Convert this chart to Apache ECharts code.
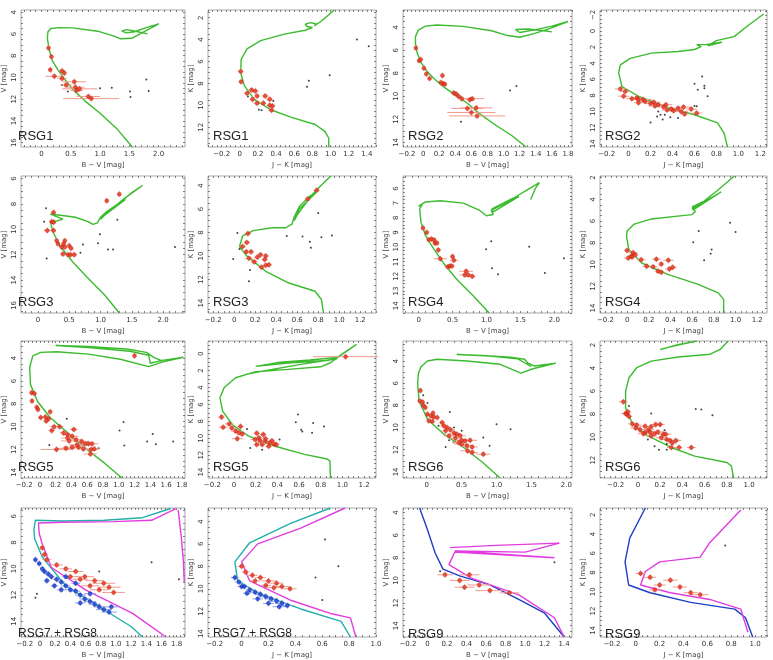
<!DOCTYPE html>
<html>
<head>
<meta charset="utf-8">
<title>RSG colour-magnitude diagrams</title>
<script src="https://cdn.jsdelivr.net/npm/echarts/dist/echarts.min.js"></script>
<style>
html, body { margin: 0; padding: 0; background: #fff; }
#chart { width: 773px; height: 660px; }
</style>
</head>
<body>
<div id="chart"></div>
<script>
// tick labels
var tBV05 = [0, 0.5, 1, 1.5, 2];
var tBV02 = [-0.2, 0, 0.2, 0.4, 0.6, 0.8, 1.0, 1.2, 1.4, 1.6, 1.8];
var tJK = [-0.2, 0, 0.2, 0.4, 0.6, 0.8, 1.0, 1.2, 1.4];
var tMag2 = [-2, 0, 2, 4, 6, 8, 10, 12, 14, 16];
var tMag1 = [6, 7, 8, 9, 10, 11, 12, 13, 14];

// RSG1
var iso1 = [[1.55,16.4],[1.3,14.8],[1.0,13.3],[0.75,12.2],[0.55,11.2],[0.4,10.2],[0.28,9.3],[0.18,8.4],[0.13,7.4],[0.1,6.4],[0.11,5.8],[0.16,5.5],[0.3,5.42],[0.53,5.44],[0.96,5.75],[1.24,6.2],[1.35,6.45],[1.54,6.4],[1.73,5.85],[2.0,5.07],[1.8,5.4],[1.59,5.8],[1.45,5.9],[1.37,5.75],[1.45,5.6],[1.6,5.75],[1.81,6.0]];
var red1 = [[0.12,7.3,0.02],[0.17,8.1,0.02],[0.15,9.3,0.03],[0.22,9.9,0.15],[0.35,9.4,0.05],[0.39,9.6,0.04],[0.35,10.1,0.08],[0.56,10.4,0.2],[0.42,10.7,0.1],[0.58,10.9,0.15],[0.65,11.05,0.3],[0.6,11.2,0.1],[0.8,11.75,0.2],[0.85,11.95,0.48]];
var blk1 = [[0.35,10.7],[0.45,11.3],[1.0,11.0],[1.2,10.95],[1.51,11.3],[1.52,11.8],[1.79,10.2],[1.83,11.25]];
var iso2 = [[0.98,13.8],[0.98,13.0],[0.94,12.4],[0.83,11.75],[0.57,11.1],[0.34,10.4],[0.16,9.45],[0.05,8.2],[0.01,7.0],[0.015,5.8],[0.08,4.85],[0.23,4.1],[0.49,3.5],[0.72,3.15],[0.8,2.9],[0.74,2.8],[0.72,2.6],[0.78,2.45],[0.85,2.6],[0.82,2.75],[0.9,2.3],[1.04,1.3]];
var red2 = [[0.01,6.9,0.03],[0.015,7.85,0.03],[0.13,8.6,0.04],[0.17,8.7,0.04],[0.08,8.9,0.03],[0.19,9.15,0.03],[0.28,9.15,0.04],[0.14,9.45,0.03],[0.33,9.45,0.04],[0.19,9.8,0.04],[0.26,9.8,0.03],[0.33,10.0,0.04],[0.36,10.05,0.03],[0.35,10.45,0.04]];
var blk2 = [[0.09,9.2],[0.21,10.4],[0.24,10.45],[0.37,9.6],[0.74,8.3],[0.76,7.75],[0.99,7.25],[1.29,4.0],[1.42,4.6]];

// RSG2
var iso3 = [[1.28,14.4],[1.1,13.4],[0.88,12.4],[0.7,11.5],[0.55,10.6],[0.4,9.9],[0.26,9.2],[0.14,8.5],[0.05,7.85],[-0.03,7.0],[-0.075,6.2],[-0.095,5.4],[-0.095,4.8],[-0.06,4.25],[0.03,3.9],[0.17,3.8],[0.5,3.92],[0.85,4.3],[1.05,4.72],[1.2,4.87],[1.38,4.55],[1.58,4.1],[1.8,3.5],[1.6,3.9],[1.4,4.2],[1.2,4.45],[1.15,4.2],[1.3,4.15],[1.5,4.3],[1.6,4.4]];
var red3 = [[-0.09,5.8,0.01],[-0.05,6.9,0.02],[-0.03,6.8,0.02],[0.01,7.55,0.02],[0.04,8.05,0.02],[0.08,8.45,0.02],[0.24,8.2,0.02],[0.22,8.8,0.02],[0.25,8.9,0.02],[0.27,8.95,0.02],[0.38,9.7,0.03],[0.41,9.8,0.03],[0.44,10.0,0.04],[0.48,10.2,0.05],[0.58,10.3,0.06],[0.61,10.2,0.15],[0.55,11.05,0.2],[0.66,11.0,0.2],[0.6,11.4,0.3],[0.67,11.7,0.35]];
var blk3 = [[0.47,12.2],[1.08,9.5],[1.16,9.1]];
var iso4 = [[0.9,14.4],[0.87,12.7],[0.81,11.4],[0.6,10.4],[0.33,9.4],[0.09,8.1],[-0.06,6.9],[-0.09,5.2],[-0.075,4.2],[0.015,3.4],[0.21,2.75],[0.45,2.55],[0.6,2.3],[0.66,1.95],[0.62,1.7],[0.7,1.7],[0.85,1.4],[0.72,1.85],[0.8,1.2],[0.96,0.7],[1.1,-0.8],[1.23,-2.1]];
var red4 = [[-0.075,7.2,0.05],[-0.03,7.5,0.04],[-0.045,8.1,0.05],[0.075,8.3,0.06],[0.09,8.5,0.05],[0.09,8.9,0.04],[0.2,9.0,0.05],[0.23,8.85,0.06],[0.27,9.15,0.05],[0.34,9.15,0.06],[0.32,9.45,0.05],[0.39,9.7,0.05],[0.45,9.6,0.06],[0.5,9.45,0.06],[0.57,9.7,0.05],[0.62,10.2,0.05],[0.03,8.4,0.05],[0.15,8.75,0.05],[0.24,9.3,0.06],[0.35,9.8,0.05],[0.41,9.9,0.05],[0.48,10.0,0.06],[0.51,10.3,0.04],[0.13,8.5,0.08]];
var blk4 = [[0.2,11.35],[0.27,10.0],[0.26,10.6],[0.33,10.4],[0.31,11.0],[0.38,10.7],[0.45,10.8],[0.29,10.4],[0.6,6.55],[0.63,7.3],[0.67,5.65],[0.69,6.8],[0.69,7.1],[0.72,8.1],[0.62,9.35],[0.6,9.3]];

// RSG3
var iso5 = [[1.3,16.6],[1.07,15.2],[0.81,13.9],[0.56,12.6],[0.35,11.3],[0.24,10.2],[0.2,9.4],[0.3,9.35],[0.4,9.2],[0.3,9.0],[0.2,8.8],[0.45,8.95],[0.6,9.05],[0.8,9.4],[0.88,9.62],[0.95,9.5],[1.0,9.05],[1.1,8.6],[1.35,7.75],[1.5,7.1],[1.67,6.55],[1.4,7.5],[1.15,8.5],[1.0,9.2],[1.05,8.95],[1.4,7.65]];
var red5 = [[1.3,7.23,0.02],[1.1,7.75,0.02],[0.25,8.67,0.03],[0.22,9.4,0.04],[0.25,9.45,0.03],[0.15,10.1,0.06],[0.25,10.1,0.04],[0.3,10.9,0.03],[0.32,11.15,0.03],[0.43,10.9,0.03],[0.41,11.15,0.03],[0.38,11.4,0.04],[0.43,11.4,0.03],[0.5,11.3,0.03],[0.53,11.5,0.03],[0.4,11.95,0.04],[0.48,12.0,0.05],[0.52,12.0,0.04],[0.58,12.0,0.05]];
var blk5 = [[0.13,8.35],[0.1,9.4],[0.14,12.3],[0.72,11.2],[0.68,11.85],[0.96,11.1],[0.99,10.4],[1.27,9.25],[1.12,11.6],[1.2,11.6],[2.19,11.4]];
var iso6 = [[0.85,14.85],[0.83,13.7],[0.77,13.0],[0.52,12.3],[0.3,11.3],[0.12,10.0],[0.05,9.2],[0.08,8.3],[0.18,7.85],[0.36,7.6],[0.49,7.6],[0.55,7.3],[0.57,6.7],[0.62,5.8],[0.72,4.9],[0.78,4.6],[0.62,6.0],[0.57,7.0],[0.6,6.5],[0.75,4.7],[0.85,3.8],[0.92,3.2]];
var red6 = [[0.785,4.42,0.03],[0.7,5.15,0.03],[0.13,8.1,0.03],[0.12,8.85,0.03],[0.08,9.2,0.03],[0.115,9.65,0.03],[0.16,9.65,0.03],[0.14,10.2,0.04],[0.19,10.5,0.03],[0.22,10.1,0.03],[0.25,9.9,0.03],[0.3,10.0,0.03],[0.29,10.3,0.03],[0.33,10.75,0.03],[0.3,10.8,0.03],[0.26,10.95,0.03]];
var blk6 = [[0.03,8.05],[0.05,9.4],[-0.01,10.25],[0.15,11.2],[0.14,12.15],[0.5,8.3],[0.65,8.35],[0.72,8.8],[0.73,9.3],[0.83,8.4],[0.93,8.25],[0.8,6.35]];

// RSG4
var iso7 = [[1.04,14.5],[0.8,13.3],[0.56,12.2],[0.36,11.05],[0.22,10.1],[0.1,9.2],[0.035,8.3],[0.015,7.4],[0.05,7.12],[0.0,7.2],[0.1,6.92],[0.32,6.84],[0.66,7.0],[0.9,7.5],[1.0,7.86],[1.1,7.78],[1.07,7.5],[1.3,6.95],[1.48,6.55],[1.1,7.6],[1.08,7.4],[1.4,6.65],[1.6,6.1],[1.78,5.6],[1.72,6.0],[1.65,6.75]];
var red7 = [[0.065,8.7,0.02],[0.12,9.0,0.02],[0.15,9.5,0.03],[0.19,9.45,0.03],[0.23,9.52,0.03],[0.24,9.73,0.03],[0.27,9.73,0.03],[0.29,10.2,0.04],[0.32,10.8,0.1],[0.5,10.65,0.03],[0.52,10.9,0.06],[0.43,11.35,0.05],[0.46,11.3,0.04],[0.49,11.3,0.04],[0.7,11.65,0.1],[0.68,11.9,0.08],[0.73,11.9,0.06],[0.79,12.0,0.05]];
var blk7 = [[0.995,10.15],[1.07,9.6],[1.08,11.45],[1.17,11.85],[1.63,9.98],[1.86,11.77],[2.14,10.77]];
var iso8 = [[0.89,14.45],[0.89,13.2],[0.84,12.6],[0.65,11.8],[0.375,10.9],[0.135,9.85],[0.015,8.6],[-0.005,7.4],[0.0,6.9],[0.06,6.3],[0.225,5.8],[0.465,5.54],[0.6,5.4],[0.63,5.1],[0.6,4.85],[0.87,3.3],[0.62,4.9],[0.6,4.7],[0.71,4.15],[0.83,3.2],[0.99,1.85]];
var red8 = [[0.0,8.7,0.03],[0.01,9.4,0.04],[0.04,9.2,0.03],[0.055,8.9,0.04],[0.075,9.1,0.03],[0.045,9.3,0.03],[0.13,9.55,0.04],[0.27,9.5,0.04],[0.38,9.6,0.05],[0.315,9.95,0.03],[0.18,10.15,0.04],[0.24,10.2,0.04],[0.42,10.25,0.04],[0.39,10.4,0.04],[0.285,10.6,0.03],[0.315,10.7,0.03]];
var blk8 = [[0.66,6.9],[0.61,7.95],[0.95,6.15],[1.0,7.0],[0.78,8.6],[0.77,9.0],[0.71,9.6]];

// RSG5
var iso9 = [[1.04,14.5],[0.82,13.2],[0.575,11.9],[0.33,10.4],[0.13,9.2],[-0.03,7.8],[-0.12,6.3],[-0.13,4.8],[-0.09,3.8],[0.01,3.5],[0.21,3.44],[0.615,3.65],[1.02,4.1],[1.38,4.74],[1.55,4.35],[1.82,3.92],[1.55,4.2],[1.4,4.45],[1.42,4.3],[1.38,3.75],[1.14,3.4],[0.615,3.08],[0.2,2.9],[0.6,2.98],[1.1,3.2],[1.35,3.5],[1.45,3.95],[1.55,4.25]];
var red9 = [[1.2,3.8,0.02],[-0.105,7.03,0.02],[-0.07,7.1,0.02],[-0.1,7.75,0.02],[-0.04,8.3,0.02],[-0.025,8.5,0.02],[0.01,9.2,0.03],[0.07,9.15,0.03],[0.11,9.3,0.03],[0.08,9.5,0.04],[0.13,8.7,0.02],[0.18,10.0,0.05],[0.15,10.35,0.04],[0.25,10.0,0.05],[0.3,10.55,0.05],[0.35,10.7,0.06],[0.43,10.25,0.05],[0.41,10.85,0.08],[0.35,11.0,0.08],[0.37,11.25,0.1],[0.46,11.15,0.08],[0.53,11.3,0.1],[0.575,11.5,0.1],[0.615,11.5,0.08],[0.66,11.5,0.08],[0.33,11.9,0.12],[0.41,11.8,0.12],[0.49,11.8,0.1],[0.55,11.95,0.08],[0.65,12.0,0.1],[0.69,11.95,0.06],[0.64,12.4,0.08],[0.21,12.0,0.2],[0.47,11.6,0.1]];
var blk9 = [[0.34,9.3],[0.12,11.6],[0.745,11.9],[1.01,10.35],[1.06,9.6],[1.07,11.65],[1.36,11.3],[1.43,10.65],[1.47,11.55],[1.69,11.3]];
var iso10 = [[0.89,14.7],[0.885,12.7],[0.86,12.45],[0.65,11.9],[0.38,10.95],[0.135,9.75],[-0.015,8.4],[-0.105,6.8],[-0.13,5.2],[-0.09,4.0],[0.015,2.85],[0.2,2.13],[0.5,1.86],[0.8,1.55],[0.89,1.07],[0.95,0.5],[1.13,-1.1],[0.95,0.45],[0.7,0.75],[0.4,1.05],[0.2,1.5],[0.5,1.1],[0.85,0.8],[0.95,0.6],[0.6,1.3],[0.12,2.4]];
var red10 = [[1.03,0.35,0.3],[-0.115,7.5,0.03],[-0.1,8.7,0.04],[-0.045,8.3,0.04],[-0.02,8.8,0.03],[0.06,8.6,0.03],[0.015,9.15,0.04],[0.045,9.35,0.04],[0.075,9.5,0.04],[0.03,10.05,0.05],[0.21,9.4,0.03],[0.27,9.55,0.03],[0.195,10.15,0.04],[0.24,10.3,0.04],[0.29,10.35,0.03],[0.33,10.55,0.03],[0.26,10.75,0.03],[0.32,10.95,0.03],[0.37,10.7,0.03],[0.23,9.95,0.03],[0.29,10.05,0.03],[0.35,10.3,0.03],[0.39,10.75,0.03],[0.21,10.75,0.03]];
var blk10 = [[0.12,8.9],[0.15,11.15],[0.26,11.35],[0.42,10.15],[0.59,7.2],[0.57,8.1],[0.62,9.0],[0.63,9.2],[0.72,9.35],[0.73,8.2],[0.83,8.6]];

// RSG6
var iso11 = [[1.05,14.55],[0.81,13.2],[0.53,11.8],[0.245,10.6],[0.01,9.25],[-0.11,7.6],[-0.13,6.06],[-0.12,5.15],[-0.085,4.55],[0.01,4.0],[0.15,3.85],[0.575,4.0],[1.05,4.3],[1.35,5.1],[1.52,4.7],[1.85,4.2],[1.54,4.45],[1.45,4.2],[1.4,3.85],[1.2,3.65],[0.8,3.5],[0.43,3.42],[0.9,3.55],[1.3,3.8],[1.5,4.5]];
var red11 = [[-0.09,6.67,0.02],[-0.1,7.6,0.02],[-0.06,7.7,0.02],[-0.05,8.0,0.02],[-0.02,8.2,0.02],[0.01,8.8,0.03],[0.06,8.95,0.03],[0.1,9.05,0.03],[0.03,9.4,0.03],[0.08,9.45,0.03],[0.22,9.55,0.04],[0.245,9.85,0.05],[0.29,10.0,0.05],[0.34,10.2,0.06],[0.27,10.3,0.06],[0.39,10.5,0.06],[0.43,10.6,0.06],[0.48,10.75,0.08],[0.41,10.95,0.08],[0.5,11.15,0.1],[0.55,11.2,0.08],[0.62,11.15,0.1],[0.5,11.5,0.1],[0.575,11.65,0.1],[0.65,11.75,0.08],[0.585,12.1,0.1],[0.65,12.25,0.08],[0.81,12.4,0.1],[0.32,10.75,0.08],[0.46,11.35,0.1],[0.09,8.7,0.03],[0.15,9.1,0.03]];
var blk11 = [[-0.05,7.1],[0.01,7.8],[0.33,8.6],[0.17,9.85],[0.39,10.0],[0.5,10.3],[0.32,11.15],[0.39,11.35],[0.27,11.75],[0.81,10.9],[0.9,11.65],[1.0,9.7],[1.2,10.15],[0.46,10.6]];
var iso12 = [[0.86,13.55],[0.84,12.5],[0.8,12.2],[0.51,11.65],[0.3,10.9],[0.065,9.75],[-0.053,8.75],[-0.11,7.45],[-0.11,6.0],[-0.08,4.84],[-0.01,3.97],[0.12,3.4],[0.36,3.04],[0.65,2.8],[0.74,2.38],[0.81,1.65]];
var iso12b = [[0.2,2.4],[0.35,2.0],[0.53,1.65],[0.38,1.95],[0.21,2.35]];
var red12 = [[-0.13,6.93,0.04],[-0.11,7.95,0.04],[-0.1,8.0,0.03],[-0.08,8.2,0.03],[-0.09,7.8,0.03],[-0.05,8.85,0.04],[-0.01,8.95,0.04],[-0.02,9.2,0.05],[0.02,9.35,0.05],[0.065,9.05,0.05],[0.094,9.35,0.05],[0.12,9.1,0.05],[0.16,8.9,0.05],[0.2,8.9,0.04],[0.065,9.6,0.05],[0.11,9.55,0.05],[0.15,9.7,0.05],[0.18,9.55,0.05],[0.23,9.75,0.05],[0.21,10.05,0.05],[0.26,10.2,0.05],[0.29,10.3,0.05],[0.31,10.5,0.04],[0.34,10.3,0.05],[0.3,10.9,0.04],[0.37,10.9,0.03],[0.48,10.9,0.04],[0.05,9.7,0.05],[0.12,9.9,0.05],[0.25,9.75,0.05]];
var blk12 = [[-0.08,7.3],[0.12,7.95],[0.52,7.55],[0.57,7.6],[0.67,8.1],[0.2,9.0],[0.24,9.4],[0.09,10.2],[0.15,10.8],[0.19,11.1],[0.26,11.1],[0.36,10.3],[0.26,10.6]];

// RSG7 + RSG8
var iso13a = [[1.72,5.4],[1.35,6.1],[0.85,6.3],[0.3,6.35],[-0.06,6.3],[-0.08,7.0],[-0.07,7.7],[0.03,9.1],[0.34,11.3],[0.84,13.1],[1.2,14.4],[1.35,15.2]];
var iso13b = [[1.79,5.4],[1.47,6.3],[0.97,6.4],[0.3,6.45],[-0.02,6.5],[-0.01,7.3],[0.03,8.1],[0.15,9.9],[0.6,11.6],[1.22,13.4],[1.66,15.2]];
var iso13c = [[1.82,5.5],[1.86,7.5],[1.89,9.5],[1.9,11.0]];
var red13 = [[0.03,8.4,0.04],[0.06,8.9,0.05],[0.09,9.3,0.06],[0.22,9.7,0.08],[0.34,10.0,0.08],[0.47,10.2,0.1],[0.59,10.6,0.12],[0.72,10.9,0.12],[0.84,11.1,0.15],[0.91,11.4,0.15],[0.78,11.6,0.12],[0.97,11.8,0.15],[0.66,11.3,0.12],[0.4,10.6,0.1],[0.53,10.8,0.1]];
var blue13 = [[-0.06,9.3,0.03],[-0.01,9.6,0.03],[0.03,10.0,0.03],[0.06,10.2,0.04],[0.11,10.4,0.04],[0.15,10.6,0.04],[0.22,10.8,0.05],[0.28,11.0,0.05],[0.19,11.3,0.05],[0.34,11.3,0.06],[0.4,11.6,0.06],[0.47,11.7,0.06],[0.53,12.0,0.07],[0.59,12.3,0.07],[0.66,12.5,0.08],[0.72,12.7,0.08],[0.78,12.9,0.08],[0.84,13.1,0.1],[0.91,13.3,0.1],[0.34,10.6,0.05],[0.47,11.1,0.06],[0.66,11.9,0.08],[0.09,10.9,0.04],[0.28,11.6,0.06],[0.53,12.6,0.07],[0.94,12.9,0.1]];
var blk13 = [[-0.04,11.9],[-0.06,12.2],[1.47,9.5],[1.83,10.8],[0.78,10.2]];
var iso14a = [[0.66,2.8],[0.36,4.2],[0.06,5.9],[-0.05,7.6],[-0.03,9.3],[0.14,10.5],[0.44,11.8],[0.74,12.9],[0.81,14.3]];
var iso14b = [[0.77,2.8],[0.44,4.6],[0.12,6.0],[0.0,7.6],[0.06,9.3],[0.36,11.0],[0.66,12.2],[0.81,12.6],[0.85,14.3]];
var red14 = [[0.0,8.0,0.03],[0.03,8.5,0.03],[0.08,8.8,0.04],[0.14,9.0,0.04],[0.2,9.3,0.05],[0.26,9.5,0.05],[0.3,9.8,0.05],[0.36,10.0,0.05],[0.18,9.7,0.04],[0.24,9.9,0.05],[0.1,9.3,0.04]];
var blue14 = [[-0.05,9.0,0.03],[-0.02,9.4,0.03],[0.02,9.8,0.03],[0.06,10.1,0.03],[0.1,10.3,0.04],[0.14,10.5,0.04],[0.18,10.7,0.04],[0.22,10.9,0.05],[0.26,11.1,0.05],[0.3,11.3,0.05],[0.34,11.5,0.05],[0.04,10.4,0.03],[0.12,10.9,0.04],[0.2,11.3,0.04],[0.0,9.8,0.03],[0.28,11.6,0.05]];
var blk14 = [[0.62,5.6],[0.55,9.0],[0.6,11.0],[0.72,8.0]];

// RSG9
var iso15a = [[-0.08,3.6],[0.0,5.5],[0.08,7.6],[0.16,9.0],[0.33,9.6],[0.64,10.4],[0.94,11.7],[1.2,12.9],[1.4,15.0]];
var iso15b = [[0.23,7.1],[0.7,6.9],[1.35,6.7],[1.0,7.5],[0.28,7.4],[0.8,7.7],[1.3,8.0],[0.28,7.5],[0.22,8.6],[0.45,9.8],[0.94,11.3],[1.3,13.3],[1.4,15.0]];
var red15 = [[0.18,9.5,0.08],[0.33,10.0,0.1],[0.43,9.5,0.1],[0.53,10.4,0.12],[0.64,10.9,0.15],[0.84,11.1,0.1],[0.38,10.6,0.1]];
var blk15 = [[0.13,9.2],[1.3,8.4]];
var iso16a = [[0.08,1.3],[-0.05,4.4],[-0.09,6.9],[-0.06,9.3],[0.12,10.1],[0.46,11.1],[0.83,11.8],[0.92,12.7],[0.98,14.7]];
var iso16b = [[0.88,1.5],[0.62,4.9],[0.54,6.4],[0.2,6.9],[0.08,7.9],[0.04,9.3],[0.29,10.1],[0.62,10.8],[0.88,11.8],[0.94,14.2]];
var red16 = [[0.04,8.1,0.04],[0.12,8.5,0.05],[0.2,9.3,0.05],[0.29,8.8,0.06],[0.37,9.5,0.06],[0.46,10.1,0.06],[0.54,10.3,0.07],[0.16,9.8,0.05]];
var blk16 = [[0.75,5.2]];

var GREEN = '#3cbb2e', CYAN = '#20b0a8', MAGENTA = '#e13ce0', BLUE = '#1f3fc4';
var BV = 'B − V [mag]', JK = 'J − K [mag]';

var panels = [
  {label: 'RSG1', xn: BV, yn: 'V [mag]', xr: [-0.35, 2.45], yr: [3.8, 16.4], xt: tBV05, yt: tMag2, xm: 0.1, ym: 0.5, lines: [[iso1, GREEN]], red: red1, blk: blk1},
  {label: 'RSG1', xn: JK, yn: 'K [mag]', xr: [-0.35, 1.5], yr: [1.3, 13.8], xt: tJK, yt: tMag2, xm: 0.05, ym: 0.5, lines: [[iso2, GREEN]], red: red2, blk: blk2},
  {label: 'RSG2', xn: BV, yn: 'V [mag]', xr: [-0.25, 1.85], yr: [2.5, 14.4], xt: tBV02, yt: tMag2, xm: 0.05, ym: 0.5, lines: [[iso3, GREEN]], red: red3, blk: blk3},
  {label: 'RSG2', xn: JK, yn: 'K [mag]', xr: [-0.26, 1.26], yr: [-2.6, 14.4], xt: tJK, yt: tMag2, xm: 0.05, ym: 0.5, lines: [[iso4, GREEN]], red: red4, blk: blk4},
  {label: 'RSG3', xn: BV, yn: 'V [mag]', xr: [-0.27, 2.35], yr: [5.8, 16.6], xt: tBV05, yt: tMag2, xm: 0.1, ym: 0.5, lines: [[iso5, GREEN]], red: red5, blk: blk5},
  {label: 'RSG3', xn: JK, yn: 'K [mag]', xr: [-0.25, 1.35], yr: [3.2, 14.85], xt: tJK, yt: tMag2, xm: 0.05, ym: 0.5, lines: [[iso6, GREEN]], red: red6, blk: blk6},
  {label: 'RSG4', xn: BV, yn: 'V [mag]', xr: [-0.23, 2.26], yr: [5.15, 14.5], xt: tBV05, yt: tMag1, xm: 0.1, ym: 0.25, lines: [[iso7, GREEN]], red: red7, blk: blk7},
  {label: 'RSG4', xn: JK, yn: 'K [mag]', xr: [-0.25, 1.29], yr: [1.85, 14.45], xt: tJK, yt: tMag2, xm: 0.05, ym: 0.5, lines: [[iso8, GREEN]], red: red8, blk: blk8},
  {label: 'RSG5', xn: BV, yn: 'V [mag]', xr: [-0.24, 1.84], yr: [2.5, 14.5], xt: tBV02, yt: tMag2, xm: 0.05, ym: 0.5, lines: [[iso9, GREEN]], red: red9, blk: blk9},
  {label: 'RSG5', xn: JK, yn: 'K [mag]', xr: [-0.24, 1.31], yr: [-1.5, 14.7], xt: tJK, yt: tMag2, xm: 0.05, ym: 0.5, lines: [[iso10, GREEN]], red: red10, blk: blk10},
  {label: 'RSG6', xn: BV, yn: 'V [mag]', xr: [-0.34, 2.08], yr: [2.2, 14.55], xt: tBV05, yt: tMag2, xm: 0.1, ym: 0.5, lines: [[iso11, GREEN]], red: red11, blk: blk11},
  {label: 'RSG6', xn: JK, yn: 'K [mag]', xr: [-0.34, 1.16], yr: [1.65, 13.55], xt: tJK, yt: tMag2, xm: 0.05, ym: 0.5, lines: [[iso12, GREEN], [iso12b, GREEN]], red: red12, blk: blk12},
  {label: 'RSG7 + RSG8', xn: BV, yn: 'V [mag]', xr: [-0.25, 1.91], yr: [5.36, 15.2], xt: tBV02, yt: tMag2, xm: 0.05, ym: 0.5, lines: [[iso13a, CYAN], [iso13b, MAGENTA], [iso13c, MAGENTA]], red: red13, blue: blue13, blk: blk13},
  {label: 'RSG7 + RSG8', xn: JK, yn: 'K [mag]', xr: [-0.25, 1.0], yr: [2.8, 14.3], xt: tJK, yt: tMag2, xm: 0.05, ym: 0.5, lines: [[iso14a, CYAN], [iso14b, MAGENTA]], red: red14, blue: blue14, blk: blk14},
  {label: 'RSG9', xn: BV, yn: 'V [mag]', xr: [-0.25, 1.48], yr: [3.6, 15.0], xt: tBV02, yt: tMag2, xm: 0.05, ym: 0.5, lines: [[iso15a, BLUE], [iso15b, MAGENTA]], red: red15, blk: blk15},
  {label: 'RSG9', xn: JK, yn: 'K [mag]', xr: [-0.3, 1.1], yr: [1.3, 14.7], xt: tJK, yt: tMag2, xm: 0.05, ym: 0.5, lines: [[iso16a, BLUE], [iso16b, MAGENTA]], red: red16, blk: blk16}
];

var colLeft = [13, 208, 403, 600], colWidth = [172, 168, 169, 167];
var rowTop = [10, 176, 341, 508], rowHeight = 137;

function steps(a, b, s) {
  var out = [];
  for (var k = Math.ceil(a / s - 1e-6); k * s <= b + 1e-9; k++) out.push(+(k * s).toFixed(4));
  return out;
}
function inRange(arr, r) {
  return arr.filter(function (v) { return v >= r[0] - 1e-9 && v <= r[1] + 1e-9; });
}
function fmtX(v) {
  if (Math.abs(v) < 1e-9) return '0';
  return (v < 0 ? '−' : '') + Math.abs(v).toFixed(1);
}
function fmtY(v) {
  return (v < 0 ? '−' : '') + Math.abs(Math.round(v));
}

var grid = [], xAxis = [], yAxis = [], series = [], graphic = [];
var lab = {fontSize: 7, color: '#333', fontFamily: 'DejaVu Sans'};
var noLine = {show: false, onZero: false};

panels.forEach(function (p, i) {
  var c = i % 4, r = Math.floor(i / 4);
  var L = colLeft[c], T = rowTop[r], W = colWidth[c], H = rowHeight;
  grid.push({left: L, top: T, width: W, height: H, show: true, borderColor: '#a8a8a8', borderWidth: 1, backgroundColor: 'transparent'});
  var xMinor = steps(p.xr[0], p.xr[1], p.xm);
  var yMinor = steps(p.yr[0], p.yr[1], p.ym);
  var tickStyle = {inside: true, length: 2, lineStyle: {color: '#666', width: 0.8}};
  xAxis.push({
    gridIndex: i, type: 'value', min: p.xr[0], max: p.xr[1], position: 'bottom',
    name: p.xn, nameLocation: 'middle', nameGap: 15, nameTextStyle: {fontSize: 7, color: '#444', fontFamily: 'DejaVu Sans'},
    axisLine: noLine, splitLine: {show: false},
    axisTick: Object.assign({customValues: xMinor}, tickStyle),
    axisLabel: Object.assign({customValues: inRange(p.xt, p.xr), margin: 4, formatter: fmtX}, lab)
  });
  xAxis.push({
    gridIndex: i, type: 'value', min: p.xr[0], max: p.xr[1], position: 'top',
    axisLine: noLine, splitLine: {show: false},
    axisTick: Object.assign({customValues: xMinor}, tickStyle),
    axisLabel: {show: false}
  });
  yAxis.push({
    gridIndex: i, type: 'value', min: p.yr[0], max: p.yr[1], inverse: true, position: 'left',
    name: p.yn, nameLocation: 'middle', nameGap: 13, nameRotate: 90, nameTextStyle: {fontSize: 7, color: '#444', fontFamily: 'DejaVu Sans'},
    axisLine: noLine, splitLine: {show: false},
    axisTick: Object.assign({customValues: yMinor}, tickStyle),
    axisLabel: Object.assign({customValues: inRange(p.yt, p.yr), margin: 3, formatter: fmtY, rotate: 90}, lab)
  });
  yAxis.push({
    gridIndex: i, type: 'value', min: p.yr[0], max: p.yr[1], inverse: true, position: 'right',
    axisLine: noLine, splitLine: {show: false},
    axisTick: Object.assign({customValues: yMinor}, tickStyle),
    axisLabel: {show: false}
  });
  var xi = i * 2, yi = i * 2;

  p.lines.forEach(function (ln) {
    series.push({
      type: 'line', xAxisIndex: xi, yAxisIndex: yi, data: ln[0], showSymbol: false, symbol: 'none',
      lineStyle: {color: ln[1], width: 1.4}, silent: true, animation: false, z: 2
    });
  });

  series.push({
    type: 'scatter', xAxisIndex: xi, yAxisIndex: yi, data: p.blk, symbolSize: 2,
    itemStyle: {color: '#111'}, silent: true, animation: false, z: 3
  });

  var groups = [[p.red, '#f29a8e', '#e6361f', '#b5200f']];
  if (p.blue) groups.push([p.blue, '#8aa0ee', '#1c3fd8', '#0f2690']);
  groups.forEach(function (g) {
    series.push({
      type: 'custom', xAxisIndex: xi, yAxisIndex: yi, data: g[0], silent: true, animation: false, z: 4,
      renderItem: function (params, api) {
        var x = api.value(0), y = api.value(1), e = api.value(2);
        var a = api.coord([x - e, y]), b = api.coord([x + e, y]), m = api.coord([x, y]);
        return {
          type: 'group', children: [
            {type: 'line', shape: {x1: a[0], y1: a[1], x2: b[0], y2: b[1]}, style: {stroke: g[1], lineWidth: 1}},
            {type: 'line', shape: {x1: m[0], y1: m[1] - 3, x2: m[0], y2: m[1] + 3}, style: {stroke: g[1], lineWidth: 1}}
          ]
        };
      }
    });
    series.push({
      type: 'scatter', xAxisIndex: xi, yAxisIndex: yi, data: g[0], symbolSize: 4,
      itemStyle: {color: g[2], borderColor: g[3], borderWidth: 0.5}, silent: true, animation: false, z: 5
    });
  });

  graphic.push({
    type: 'text', left: L + 5, top: T + H - 17, z: 10,
    style: {text: p.label, fontSize: p.label.length > 5 ? 12 : 13, fill: '#222', fontFamily: 'Liberation Sans'}
  });
});

var chart = echarts.init(document.getElementById('chart'), null, {renderer: 'canvas'});
chart.setOption({
  animation: false,
  backgroundColor: '#fff',
  grid: grid,
  xAxis: xAxis,
  yAxis: yAxis,
  series: series,
  graphic: graphic
});
</script>
</body>
</html>
